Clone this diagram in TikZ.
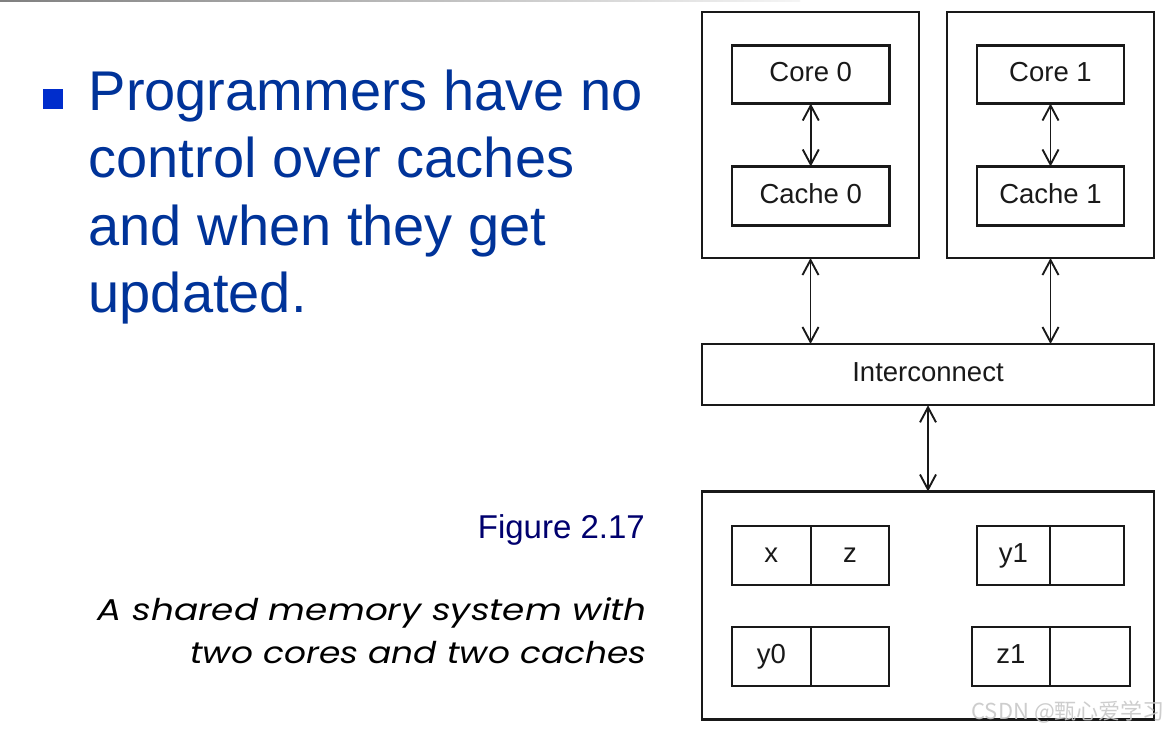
\documentclass[tikz,border=0pt]{standalone}
\usepackage{graphicx}
\usepackage{fontspec}
\setmainfont{Liberation Sans}
\newfontfamily\capfont{Poppins}
\newfontfamily\cjkfont{Noto Sans CJK SC}
\usetikzlibrary{arrows.meta}
\definecolor{slideblue}{RGB}{0,51,153}
\definecolor{bulletblue}{RGB}{0,45,204}
\definecolor{fignavy}{RGB}{0,0,110}
\definecolor{ink}{RGB}{25,25,25}
\definecolor{wmgray}{RGB}{200,200,200}
\begin{document}
\begin{tikzpicture}[x=1pt,y=-1pt,
  box/.style={draw=ink, line width=2.3pt, inner sep=0pt, outer sep=0pt,
    anchor=north west, text=ink, font=\fontsize{27.5}{30}\selectfont,
    text height=20pt, text depth=5.4pt},
  link/.style={draw=ink, line width=1.9pt,
    {Straight Barb[length=15pt,width=16pt]}-{Straight Barb[length=15pt,width=16pt]}},
  bul/.style={anchor=base west, inner sep=0pt, text=slideblue,
    font=\fontsize{56}{60}\selectfont},
  captext/.style={anchor=base east, inner sep=0pt, text=black,
    font=\capfont\itshape\fontsize{30}{32}\selectfont},
]
\fill[white] (0,0) rectangle (1174,732);
\useasboundingbox (0,0) rectangle (1174,732);
\shade[left color=gray, right color=white!92!gray] (0,0) rectangle (800,1.5);

% bullet text
\node[fill=bulletblue, minimum size=20pt, inner sep=0pt, anchor=north west] (sq) at (42.5,88.3) {};
\node[bul] (l1) at (88.5,110) {Programmers have no};
\node[bul] (l2) at (88.5,177.5) {control over caches};
\node[bul] (l3) at (88.5,245) {and when they get};
\node[bul] (l4) at (88.5,312.5) {updated.};

% captions
\node[anchor=base east, inner sep=0pt, text=fignavy, font=\fontsize{33}{36}\selectfont] (fig) at (645,538) {Figure 2.17};
\node[captext] (cap1) at (647,620) {\resizebox{549pt}{\height}{A shared memory system with}};
\node[captext] (cap2) at (647,663) {\resizebox{456.5pt}{\height}{two cores and two caches}};

% processors
\node[box, minimum width=217pt, minimum height=246pt] (p0) at (702,12) {};
\node[box, minimum width=207pt, minimum height=246pt] (p1) at (947,12) {};
\node[box, minimum width=157.5pt, minimum height=58pt] (c0) at (732,45.5) {Core 0};
\node[box, minimum width=157.5pt, minimum height=59pt] (k0) at (732,166.5) {Cache 0};
\node[box, minimum width=147pt, minimum height=58pt] (c1) at (977,45.5) {Core 1};
\node[box, minimum width=147pt, minimum height=59pt] (k1) at (977,166.5) {Cache 1};

% interconnect and memory
\node[box, minimum width=452pt, minimum height=61.3pt] (ic) at (702,344) {Interconnect};
\node[box, minimum width=452pt, minimum height=228pt] (mem) at (702,491.5) {};

\node[box, minimum width=78.7pt, minimum height=59.3pt] (xa) at (732,525.7) {x};
\node[box, minimum width=78.6pt, minimum height=59.3pt] (xb) at (810.7,525.7) {z};
\node[box, minimum width=73pt, minimum height=59.3pt] (ya) at (977,525.7) {y1};
\node[box, minimum width=74pt, minimum height=59.3pt] (yb) at (1050,525.7) {};
\node[box, minimum width=78.7pt, minimum height=59.3pt] (ua) at (732,627) {y0};
\node[box, minimum width=78.6pt, minimum height=59.3pt] (ub) at (810.7,627) {};
\node[box, minimum width=78.6pt, minimum height=59.3pt] (za) at (971.7,627) {z1};
\node[box, minimum width=79.4pt, minimum height=59.3pt] (zb) at (1050.3,627) {};

% connectors
\draw[link] (c0.south) -- (k0.north);
\draw[link] (c1.south) -- (k1.north);
\draw[link] (p0.south) -- (p0.south |- ic.north);
\draw[link] (p1.south) -- (p1.south |- ic.north);
\draw[link] (ic.south) -- (mem.north);

% watermark
\node[anchor=base east, inner sep=0pt, text=wmgray, opacity=0.9,
  font=\cjkfont\fontsize{22}{24}\selectfont] (wmk) at (1165,719.3) {CSDN @甄心爱学习};
\end{tikzpicture}
\end{document}
